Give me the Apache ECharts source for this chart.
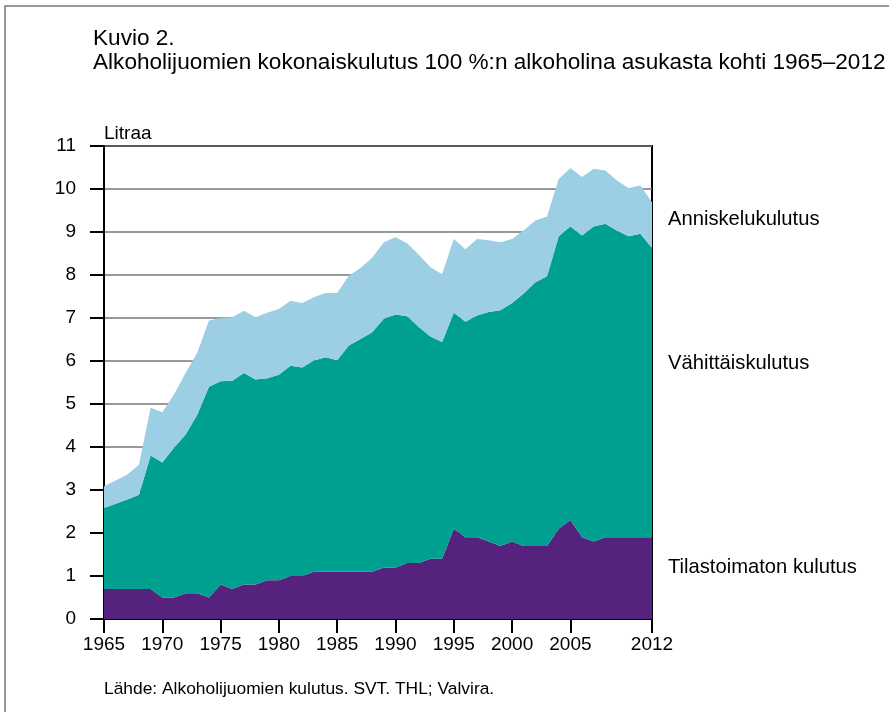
<!DOCTYPE html>
<html>
<head>
<meta charset="utf-8">
<script src="https://cdn.jsdelivr.net/npm/echarts@6/dist/echarts.min.js"></script>
<style>
  html, body { margin: 0; padding: 0; background: #fff; }
  #chart { width: 889px; height: 712px; }
</style>
</head>
<body>
<div id="chart"></div>
<script>
// years 1965-2012
const years = [];
for (let y = 1965; y <= 2012; y++) years.push(String(y));

// litres of 100 % alcohol per inhabitant
const tilastoimaton = [
  0.7, 0.7, 0.7, 0.7, 0.7, 0.5, 0.5, 0.6, 0.6, 0.5,
  0.8, 0.7, 0.8, 0.8, 0.9, 0.9, 1.0, 1.0, 1.1, 1.1,
  1.1, 1.1, 1.1, 1.1, 1.2, 1.2, 1.3, 1.3, 1.4, 1.4,
  2.1, 1.9, 1.9, 1.8, 1.7, 1.8, 1.7, 1.7, 1.7, 2.1,
  2.3, 1.9, 1.8, 1.9, 1.9, 1.9, 1.9, 1.9
];
const vahittais = [
  1.88, 1.98, 2.08, 2.19, 3.10, 3.14, 3.48, 3.69, 4.15, 4.90,
  4.73, 4.84, 4.92, 4.77, 4.70, 4.78, 4.89, 4.85, 4.91, 4.99,
  4.92, 5.26, 5.41, 5.57, 5.78, 5.88, 5.74, 5.49, 5.17, 5.04,
  5.02, 5.01, 5.16, 5.34, 5.48, 5.55, 5.87, 6.13, 6.27, 6.80,
  6.83, 7.02, 7.33, 7.29, 7.13, 7.00, 7.06, 6.73
];
const anniskelu = [
  0.51, 0.54, 0.58, 0.70, 1.11, 1.17, 1.24, 1.43, 1.44, 1.54,
  1.47, 1.48, 1.45, 1.45, 1.52, 1.53, 1.51, 1.50, 1.47, 1.49,
  1.56, 1.62, 1.65, 1.73, 1.78, 1.80, 1.70, 1.68, 1.61, 1.58,
  1.72, 1.69, 1.78, 1.67, 1.58, 1.49, 1.47, 1.44, 1.39, 1.33,
  1.36, 1.36, 1.34, 1.24, 1.17, 1.12, 1.13, 1.06
];
const labelYears = ['1965', '1970', '1975', '1980', '1985', '1990', '1995', '2000', '2005', '2012'];

const font = '"Liberation Sans", Arial, sans-serif';
const showYear = (idx, val) => labelYears.indexOf(years[idx]) >= 0;

const chart = echarts.init(document.getElementById('chart'));

function areaSeries(name, data, color) {
  return {
    name: name,
    type: 'line',
    stack: 'total',
    data: data,
    symbol: 'none',
    lineStyle: { width: 0 },
    areaStyle: { color: color, opacity: 1 },
    itemStyle: { color: color },
    silent: true
  };
}

chart.setOption({
  animation: false,
  backgroundColor: '#fff',
  textStyle: { fontFamily: font },
  grid: {
    left: 104, right: 237, top: 146, bottom: 93,
    show: true, borderColor: '#000', borderWidth: 2,
    backgroundColor: 'transparent'
  },
  xAxis: {
    type: 'category',
    data: years,
    boundaryGap: false,
    axisLine: { lineStyle: { color: '#000', width: 2 } },
    axisTick: { interval: showYear, length: 14, lineStyle: { color: '#000', width: 2 } },
    axisLabel: { interval: showYear, color: '#000', fontSize: 19, margin: 16, fontFamily: font },
    splitLine: { show: false }
  },
  yAxis: {
    type: 'value',
    min: 0, max: 11, interval: 1,
    axisLine: { show: true, lineStyle: { color: '#000', width: 2 } },
    axisTick: { show: true, length: 14, lineStyle: { color: '#000', width: 2 } },
    axisLabel: { color: '#000', fontSize: 19, margin: 28, fontFamily: font },
    splitLine: { lineStyle: { color: '#777', width: 1.5 } }
  },
  series: [
    areaSeries('Tilastoimaton kulutus', tilastoimaton, '#55237d'),
    areaSeries('Vähittäiskulutus', vahittais, '#00a090'),
    areaSeries('Anniskelukulutus', anniskelu, '#9ccee4')
  ],
  graphic: [
    { type: 'rect', shape: { x: 5, y: 6, width: 1000, height: 1000 },
      style: { fill: 'none', stroke: '#777', lineWidth: 1.5 } },
    { type: 'text', x: 93, y: 39,
      style: { text: 'Kuvio 2.', font: '22.6px ' + font, fill: '#000', textVerticalAlign: 'middle' } },
    { type: 'text', x: 93, y: 63,
      style: { text: 'Alkoholijuomien kokonaiskulutus 100 %:n alkoholina asukasta kohti 1965–2012',
        font: '22.6px ' + font, fill: '#000', textVerticalAlign: 'middle' } },
    { type: 'text', x: 104, y: 134,
      style: { text: 'Litraa', font: '19px ' + font, fill: '#000', textVerticalAlign: 'middle' } },
    { type: 'text', x: 668, y: 219,
      style: { text: 'Anniskelukulutus', font: '20.2px ' + font, fill: '#000', textVerticalAlign: 'middle' } },
    { type: 'text', x: 668, y: 363,
      style: { text: 'Vähittäiskulutus', font: '20.2px ' + font, fill: '#000', textVerticalAlign: 'middle' } },
    { type: 'text', x: 668, y: 567,
      style: { text: 'Tilastoimaton kulutus', font: '20.2px ' + font, fill: '#000', textVerticalAlign: 'middle' } },
    { type: 'text', x: 104, y: 689,
      style: { text: 'Lähde: Alkoholijuomien kulutus. SVT. THL; Valvira.', font: '17.4px ' + font, fill: '#000', textVerticalAlign: 'middle' } }
  ]
});
</script>
</body>
</html>
